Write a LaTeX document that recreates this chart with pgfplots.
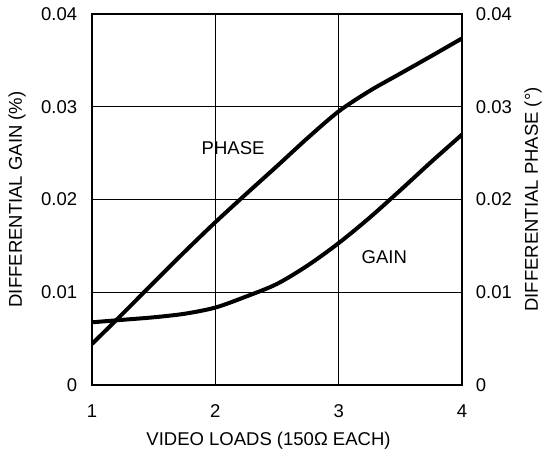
\documentclass[border=0pt]{standalone}
\usepackage{fontspec}
\setmainfont{Liberation Sans}
\usepackage{pgfplots}
\pgfplotsset{compat=1.18}
\begin{document}
\fontsize{18.5}{22}\selectfont
\begin{tikzpicture}[x=1pt,y=1pt]
\useasboundingbox (0,0) rectangle (543,458);
\pgfplotsset{
  common/.style={
    scale only axis, width=370pt, height=371pt,
    at={(92pt,73pt)}, anchor=south west,
    xmin=1, xmax=4, ymin=0, ymax=0.04,
    major tick length=0pt,
    ytick={0,0.01,0.02,0.03,0.04},
    yticklabels={0,0.01,0.02,0.03,0.04},
    scaled y ticks=false,
    tick label style={font=\fontsize{18.5}{22}\selectfont},
    label style={font=\fontsize{18.5}{22}\selectfont},
    /pgf/number format/assume math mode=true,
  }
}
\begin{axis}[common,
  axis line style={line width=2pt},
  xtick={1,2,3,4}, xticklabels={1,2,3,4},
  grid=major, grid style={black, line width=1.2pt},
  yticklabel style={anchor=east, xshift=-8.5pt},
  xticklabel style={anchor=base, yshift=-32pt},
  xlabel={VIDEO LOADS (150\symbol{"03A9} EACH)},
  xlabel style={at={(axis description cs:0.477,-0.151)}, anchor=center},
  ylabel={DIFFERENTIAL GAIN (\%)},
  ylabel style={at={(axis description cs:-0.2027,0.5)}, anchor=center},
]
\addplot[black, line width=4pt, smooth] coordinates {
 (1,0.00443) (1.25,0.00770) (1.5,0.01105) (1.75,0.01435) (2,0.01755)
 (2.25,0.02060) (2.5,0.02360) (2.75,0.02665) (3,0.02950) (3.25,0.0317)
 (3.5,0.03358) (3.75,0.03546) (4,0.03737)};
\addplot[black, line width=4pt, smooth] coordinates {
 (1,0.00676) (1.25,0.00703) (1.5,0.0073) (1.75,0.00768) (2,0.00835)
 (2.25,0.00954) (2.5,0.0109) (2.75,0.0129) (3,0.0153) (3.25,0.01803)
 (3.5,0.0210) (3.75,0.02405) (4,0.0270)};
\node at (axis cs:2.144,0.0255) {PHASE};
\node at (axis cs:3.37,0.01375) {GAIN};
\end{axis}
\begin{axis}[common,
  axis x line=none, axis y line*=right,
  axis line style={line width=2pt},
  yticklabel style={anchor=west, xshift=7.5pt},
  ylabel={DIFFERENTIAL PHASE (\symbol{"00B0})},
  ylabel style={at={(axis description cs:1.1919,0.5)}, anchor=center},
]
\addplot[draw=none] coordinates {(1,0) (4,0.04)};
\end{axis}
\end{tikzpicture}
\end{document}
